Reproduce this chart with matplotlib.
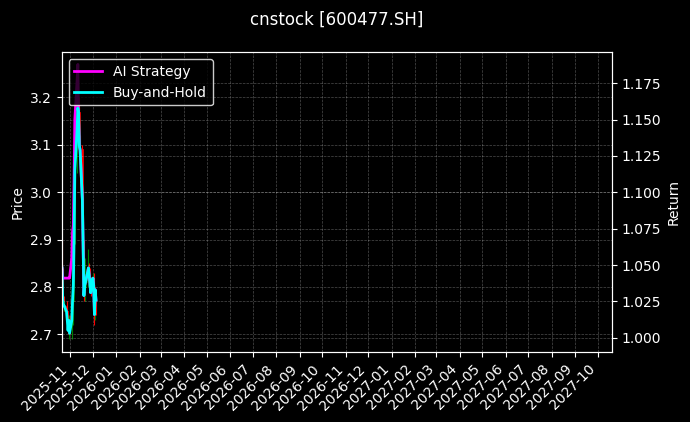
import pandas as pd
import matplotlib
matplotlib.use('Agg')
import matplotlib.pyplot as plt
import matplotlib.dates as mdates

plt.style.use('dark_background')

# daily data
dates = pd.to_datetime([
    '2025-10-21', '2025-10-22', '2025-10-23', '2025-10-24',
    '2025-10-27', '2025-10-28', '2025-10-29', '2025-10-30', '2025-10-31',
    '2025-11-03', '2025-11-04', '2025-11-05', '2025-11-06', '2025-11-07',
    '2025-11-10', '2025-11-11', '2025-11-12', '2025-11-13', '2025-11-14',
    '2025-11-17', '2025-11-18', '2025-11-19', '2025-11-20', '2025-11-21',
    '2025-11-24', '2025-11-25', '2025-11-26', '2025-11-27', '2025-11-28',
    '2025-12-01', '2025-12-02', '2025-12-03', '2025-12-04', '2025-12-05'])

opens = [2.90, 2.83, 2.77, 2.76, 2.76, 2.75, 2.73, 2.70, 2.73,
         2.70, 2.73, 2.77, 2.81, 2.90, 3.05, 3.14, 3.18, 3.17, 3.10,
         3.09, 2.99, 2.89, 2.78, 2.80, 2.81, 2.83, 2.84, 2.83, 2.81,
         2.79, 2.82, 2.80, 2.74, 2.78]
highs = [2.90, 2.84, 2.78, 2.77, 2.77, 2.76, 2.74, 2.74, 2.74,
         2.74, 2.78, 2.82, 2.91, 3.06, 3.15, 3.22, 3.20, 3.18, 3.12,
         3.10, 3.00, 2.90, 2.82, 2.86, 2.88, 2.86, 2.85, 2.84, 2.82,
         2.83, 2.83, 2.81, 2.79, 2.79]
lows = [2.83, 2.76, 2.75, 2.75, 2.74, 2.72, 2.70, 2.69, 2.70,
        2.69, 2.72, 2.76, 2.80, 2.89, 3.04, 3.12, 3.16, 3.09, 3.08,
        2.98, 2.88, 2.77, 2.77, 2.79, 2.80, 2.82, 2.81, 2.80, 2.78,
        2.77, 2.79, 2.72, 2.73, 2.74]
closes = [2.840, 2.772, 2.760, 2.760, 2.747, 2.730, 2.709, 2.730, 2.702,
          2.730, 2.772, 2.804, 2.900, 3.049, 3.134, 3.181, 3.172, 3.102, 3.091,
          2.985, 2.889, 2.783, 2.804, 2.811, 2.832, 2.840, 2.826, 2.811, 2.789,
          2.819, 2.804, 2.740, 2.777, 2.760]

ai_ret = [1.048, 1.041, 1.041, 1.041, 1.041, 1.041, 1.041, 1.041, 1.041,
          1.055, 1.073, 1.077, 1.108, 1.150, 1.177, 1.188, 1.150, 1.132, 1.129,
          1.095, 1.064, 1.029, 1.036, 1.038, 1.045, 1.048, 1.043, 1.038, 1.031,
          1.041, 1.036, 1.016, 1.033, 1.026]
bh_ret = [1.048, 1.026, 1.022, 1.022, 1.018, 1.012, 1.005, 1.012, 1.003,
          1.012, 1.026, 1.036, 1.067, 1.115, 1.143, 1.158, 1.155, 1.132, 1.129,
          1.095, 1.064, 1.029, 1.036, 1.038, 1.045, 1.048, 1.043, 1.038, 1.031,
          1.041, 1.036, 1.016, 1.033, 1.026]

fig = plt.figure(figsize=(6.9, 4.22), dpi=100)
fig.patch.set_facecolor('black')
ax = fig.add_axes([0.0894, 0.1652, 0.797, 0.7108])
ax.set_facecolor('black')

# candles
for d, o, h, l, c in zip(dates, opens, highs, lows, closes):
    col = 'green' if c >= o else 'red'
    ax.vlines(d, l, h, color=col, linewidth=0.8)
    ax.bar(d, abs(c - o), bottom=min(o, c), width=0.6, color=col, edgecolor=col, linewidth=0.5)

ax.set_ylim(2.662, 3.295)
ax.set_ylabel('Price')
ax.grid(True, linestyle='--', linewidth=0.5, alpha=0.3)

ax2 = ax.twinx()
ax2.plot(dates, ai_ret, color='magenta', linewidth=2, label='AI Strategy')
ax2.plot(dates, bh_ret, color='cyan', linewidth=2, label='Buy-and-Hold')
ax2.set_ylim(0.990, 1.1963)
ax2.set_ylabel('Return')
ax2.grid(True, linestyle='--', linewidth=0.5, alpha=0.3)
ax2.legend(loc='upper left', facecolor='black', edgecolor='white')

ax.set_xlim(pd.Timestamp('2025-10-20 14:00'), pd.Timestamp('2027-10-19 12:00'))
ax.xaxis.set_major_locator(mdates.MonthLocator())
ax.xaxis.set_major_formatter(mdates.DateFormatter('%Y-%m'))
plt.setp(ax.get_xticklabels(), rotation=45, ha='right')

ax.set_title('cnstock [600477.SH]', fontsize=12, pad=20)

fig.savefig('out.png', dpi=100, facecolor='black')
